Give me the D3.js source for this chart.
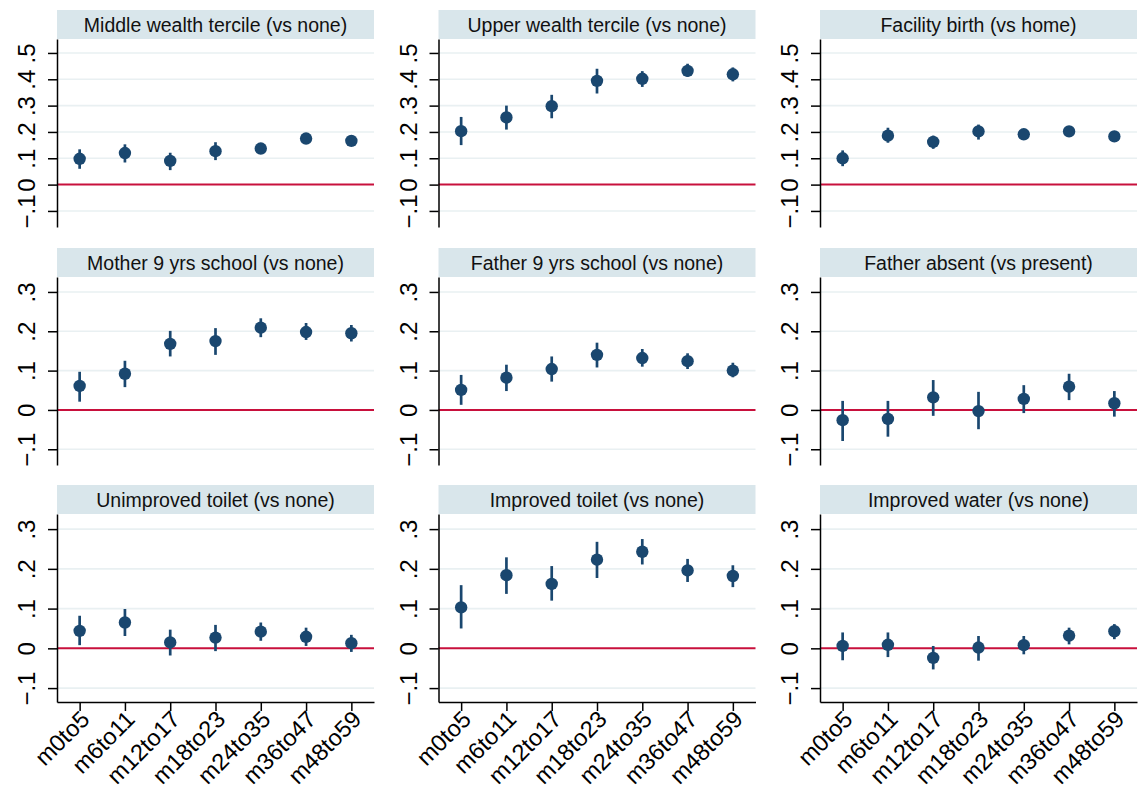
<!DOCTYPE html>
<html>
<head>
<meta charset="utf-8">
<script src="https://cdn.jsdelivr.net/npm/d3@7"></script>
<style>
  html, body { margin: 0; padding: 0; background: #fff; }
  svg { display: block; font-family: "Liberation Sans", Arial, Helvetica, sans-serif; }
</style>
</head>
<body>
<svg id="chart" width="1141" height="792"></svg>
<script>
// ---------- data ----------
const categories = ["m0to5", "m6to11", "m12to17", "m18to23", "m24to35", "m36to47", "m48to59"];

const panelTitles = [
  "Middle wealth tercile (vs none)", "Upper wealth tercile (vs none)", "Facility birth (vs home)",
  "Mother 9 yrs school (vs none)", "Father 9 yrs school (vs none)", "Father absent (vs present)",
  "Unimproved toilet (vs none)", "Improved toilet (vs none)", "Improved water (vs none)"
];

const middleWealthEst = [0.098, 0.120, 0.090, 0.127, 0.137, 0.175, 0.166];
const middleWealthLo  = [0.060, 0.084, 0.055, 0.093, 0.125, 0.162, 0.153];
const middleWealthHi  = [0.134, 0.153, 0.121, 0.161, 0.150, 0.189, 0.180];

const upperWealthEst = [0.203, 0.255, 0.298, 0.394, 0.402, 0.432, 0.419];
const upperWealthLo  = [0.150, 0.209, 0.252, 0.346, 0.371, 0.410, 0.392];
const upperWealthHi  = [0.257, 0.300, 0.341, 0.440, 0.431, 0.459, 0.445];

const facilityEst = [0.100, 0.186, 0.162, 0.202, 0.191, 0.202, 0.183];
const facilityLo  = [0.070, 0.159, 0.136, 0.171, 0.175, 0.186, 0.168];
const facilityHi  = [0.130, 0.216, 0.186, 0.228, 0.207, 0.218, 0.198];

const motherSchoolEst = [0.061, 0.092, 0.168, 0.175, 0.209, 0.198, 0.195];
const motherSchoolLo  = [0.021, 0.058, 0.136, 0.140, 0.185, 0.178, 0.174];
const motherSchoolHi  = [0.097, 0.125, 0.201, 0.208, 0.233, 0.221, 0.216];

const fatherSchoolEst = [0.051, 0.082, 0.104, 0.140, 0.132, 0.124, 0.100];
const fatherSchoolLo  = [0.013, 0.048, 0.072, 0.108, 0.110, 0.104, 0.083];
const fatherSchoolHi  = [0.089, 0.115, 0.136, 0.171, 0.155, 0.144, 0.120];

const fatherAbsentEst = [-0.026, -0.023, 0.032, -0.003, 0.028, 0.059, 0.017];
const fatherAbsentLo  = [-0.079, -0.068, -0.015, -0.049, -0.008, 0.025, -0.017];
const fatherAbsentHi  = [0.023, 0.023, 0.076, 0.046, 0.063, 0.092, 0.048];

const unimprovedToiletEst = [0.044, 0.065, 0.015, 0.027, 0.042, 0.029, 0.013];
const unimprovedToiletLo  = [0.008, 0.031, -0.018, -0.007, 0.019, 0.006, -0.009];
const unimprovedToiletHi  = [0.082, 0.099, 0.047, 0.059, 0.065, 0.052, 0.034];

const improvedToiletEst = [0.103, 0.184, 0.162, 0.223, 0.243, 0.196, 0.182];
const improvedToiletLo  = [0.050, 0.137, 0.120, 0.177, 0.211, 0.167, 0.154];
const improvedToiletHi  = [0.159, 0.229, 0.207, 0.268, 0.275, 0.225, 0.209];

const improvedWaterEst = [0.006, 0.009, -0.024, 0.002, 0.008, 0.032, 0.043];
const improvedWaterLo  = [-0.030, -0.022, -0.053, -0.031, -0.015, 0.010, 0.023];
const improvedWaterHi  = [0.040, 0.040, 0.006, 0.031, 0.031, 0.052, 0.061];

const topRowTicks = [-0.1, 0, 0.1, 0.2, 0.3, 0.4, 0.5];
const topRowTickLabels = ["\u2212.1", "0", ".1", ".2", ".3", ".4", ".5"];
const lowerRowTicks = [-0.1, 0, 0.1, 0.2, 0.3];
const lowerRowTickLabels = ["\u2212.1", "0", ".1", ".2", ".3"];

const panelEst = [middleWealthEst, upperWealthEst, facilityEst, motherSchoolEst, fatherSchoolEst, fatherAbsentEst, unimprovedToiletEst, improvedToiletEst, improvedWaterEst];
const panelLo  = [middleWealthLo, upperWealthLo, facilityLo, motherSchoolLo, fatherSchoolLo, fatherAbsentLo, unimprovedToiletLo, improvedToiletLo, improvedWaterLo];
const panelHi  = [middleWealthHi, upperWealthHi, facilityHi, motherSchoolHi, fatherSchoolHi, fatherAbsentHi, unimprovedToiletHi, improvedToiletHi, improvedWaterHi];

// ---------- layout ----------
const colX = [57, 438.5, 820];
const panelW = 317;
const plotTop = [39, 277, 514];
const plotH = 188;
const titleH = 29;
const rowDomains = [[-0.161, 0.553], [-0.14, 0.338], [-0.135, 0.338]];

const navy = "#1a476f";
const red = "#c8103c";
const gridColor = "#e9f0f2";
const titleBg = "#d9e6eb";

const svg = d3.select("#chart");

panelTitles.forEach((title, i) => {
  const col = i % 3, row = Math.floor(i / 3);
  const x0 = colX[col], y0 = plotTop[row];
  const ticks = row === 0 ? topRowTicks : lowerRowTicks;
  const tickLabels = row === 0 ? topRowTickLabels : lowerRowTickLabels;

  const x = d3.scalePoint().domain(categories).range([x0, x0 + panelW]).padding(0.5);
  const y = d3.scaleLinear().domain(rowDomains[row]).range([y0 + plotH, y0]);

  const g = svg.append("g");

  // title strip
  g.append("rect")
    .attr("x", x0).attr("y", y0 - titleH)
    .attr("width", panelW).attr("height", titleH)
    .attr("fill", titleBg);
  g.append("text")
    .attr("x", x0 + panelW / 2).attr("y", y0 - titleH / 2)
    .attr("dy", "0.36em")
    .attr("text-anchor", "middle")
    .attr("font-size", 19.5)
    .attr("fill", "#111")
    .text(title);

  // gridlines
  g.append("g").selectAll("line")
    .data(ticks.filter(t => t !== 0))
    .join("line")
    .attr("x1", x0).attr("x2", x0 + panelW)
    .attr("y1", d => y(d)).attr("y2", d => y(d))
    .attr("stroke", gridColor).attr("stroke-width", 1.6);

  // zero reference line
  g.append("line")
    .attr("x1", x0).attr("x2", x0 + panelW)
    .attr("y1", y(0)).attr("y2", y(0))
    .attr("stroke", red).attr("stroke-width", 2);

  const est = panelEst[i], lo = panelLo[i], hi = panelHi[i];

  // CI spikes
  g.append("g").selectAll("line")
    .data(categories)
    .join("line")
    .attr("x1", d => x(d)).attr("x2", d => x(d))
    .attr("y1", (d, k) => y(lo[k])).attr("y2", (d, k) => y(hi[k]))
    .attr("stroke", navy).attr("stroke-width", 2.7);

  // point estimates
  g.append("g").selectAll("circle")
    .data(categories)
    .join("circle")
    .attr("cx", d => x(d)).attr("cy", (d, k) => y(est[k]))
    .attr("r", 6.2)
    .attr("fill", navy);

  // y axis
  const yAxis = d3.axisLeft(y)
    .tickValues(ticks)
    .tickFormat((d, k) => tickLabels[k])
    .tickSize(9).tickSizeOuter(0);
  const ya = g.append("g").attr("transform", `translate(${x0},0)`).call(yAxis);
  ya.select(".domain").attr("stroke", "#000").attr("stroke-width", 1.5);
  ya.selectAll(".tick line").attr("stroke", "#000").attr("stroke-width", 1.5);
  ya.selectAll(".tick text")
    .attr("x", null).attr("dy", null)
    .attr("text-anchor", "middle")
    .attr("transform", "translate(-22,0) rotate(-90)")
    .attr("font-size", 24)
    .attr("font-family", "Liberation Sans, Arial, sans-serif")
    .attr("fill", "#000");

  // x axis only for bottom row
  if (row === 2) {
    const xAxis = d3.axisBottom(x).tickSize(9).tickSizeOuter(0);
    const xa = g.append("g").attr("transform", `translate(0,${y0 + plotH})`).call(xAxis);
    xa.select(".domain").attr("stroke", "#000").attr("stroke-width", 1.5);
    xa.selectAll(".tick line").attr("stroke", "#000").attr("stroke-width", 1.5);
    xa.selectAll(".tick text")
      .attr("y", null).attr("dy", "0.35em")
      .attr("text-anchor", "end")
      .attr("transform", "translate(5,13) rotate(-45)")
      .attr("font-size", 23.5)
      .attr("font-family", "Liberation Sans, Arial, sans-serif")
      .attr("fill", "#000");
  }
});
</script>
</body>
</html>
